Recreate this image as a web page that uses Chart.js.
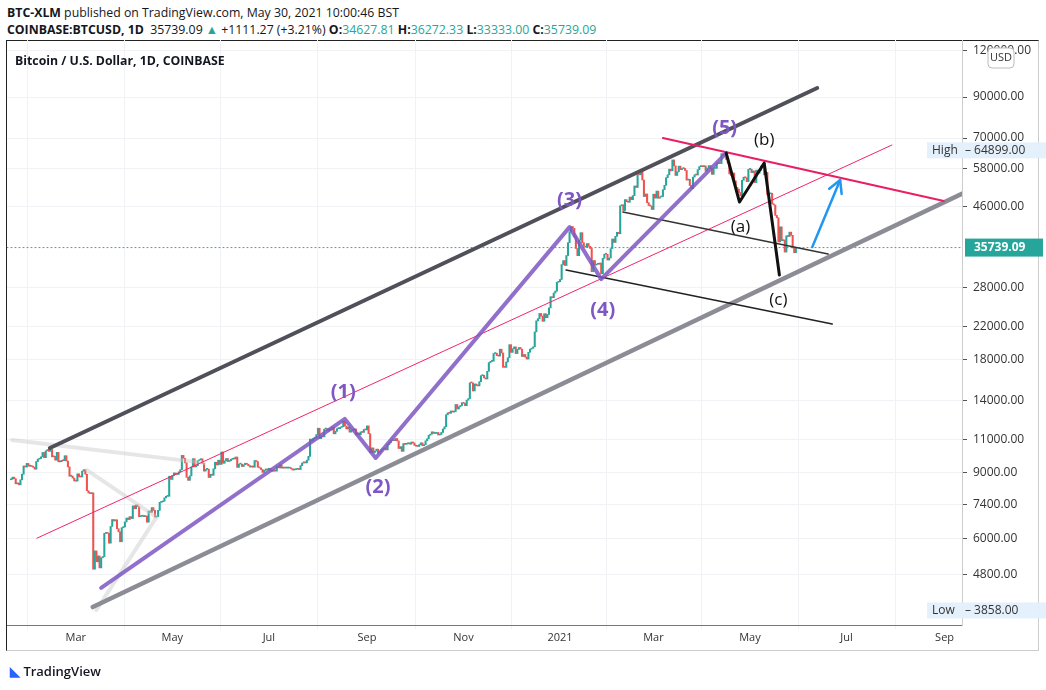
<!DOCTYPE html>
<html><head><meta charset="utf-8">
<script src="https://cdn.jsdelivr.net/npm/chart.js@4"></script>
<style>
body{margin:0;width:1046px;height:690px;background:#fff;font-family:"Open Sans","Liberation Sans",sans-serif;overflow:hidden;position:relative}
#h1{position:absolute;left:7px;top:4px;font-size:12.3px;color:#131722}
#h2{position:absolute;left:7px;top:21px;font-size:12.3px;color:#131722}
.t{color:#26a69a}
#frame{position:absolute;left:6px;top:40px;width:1033px;height:611px;border:1px solid #222;border-bottom:1px solid #ccc;border-right:1px solid #ccc;box-sizing:border-box}
#title{position:absolute;left:15px;top:52px;font-size:12.3px;font-weight:bold;color:#131722}
#tv{position:absolute;left:10px;top:662px;font-size:13px;font-weight:600;color:#131722}
canvas{position:absolute;left:0;top:0}
</style></head><body>
<div id="h1"><b>BTC-XLM</b> published on TradingView.com, May 30, 2021 10:00:46 BST</div>
<div id="h2"><b>COINBASE:BTCUSD, 1D</b>&nbsp; 35739.09 <span class="t">▲</span> +1111.27 (+3.21%) <b>O:</b><span class="t">34627.81</span> <b>H:</b><span class="t">36272.33</span> <b>L:</b><span class="t">33333.00</span> <b>C:</b><span class="t">35739.09</span></div>
<div id="frame"></div>
<canvas id="c" width="1046" height="690"></canvas>
<div id="title">Bitcoin / U.S. Dollar, 1D, COINBASE</div>
<div id="tv"><span style="color:#2962ff">◣</span> TradingView</div>
<script>
// Daily closes from 2020-01-20 (day 0) to 2021-05-30
const closes=[8630,8740,8660,8390,8430,8340,8600,8900,9360,9300,9510,9350,
9380,9330,9290,9180,9620,9760,9800,9900,10170,9850,10270,10350,10240,10360,9900,9930,9700,10180,9600,9610,9690,9670,9970,9650,9310,8790,8800,8690,8540,
8530,8920,8760,8750,9070,9150,8900,8040,7930,7900,7940,4970,5560,5200,5390,5010,5330,5370,6190,6200,6190,5830,6460,6740,6680,6730,6370,6250,5880,6410,6440,
6640,6800,6740,6860,6780,7330,7200,7370,7290,6860,6880,6910,6860,6880,6630,7100,7040,7250,7130,6840,6860,7130,7490,7510,7540,7700,7770,7770,8790,8620,
8830,8970,8910,8890,9030,9150,9990,9810,9540,8730,8570,8810,9310,9790,9310,9380,9670,9730,9780,9510,9070,9170,9180,8720,8900,8840,9200,9580,9420,9700,9450,
10200,9520,9660,9800,9620,9670,9750,9780,9770,9890,9280,9470,9470,9330,9430,9520,9460,9380,9300,9360,9290,9680,9620,9290,9250,9160,9000,9110,9190,9140,
9230,9090,9060,9130,9070,9340,9250,9430,9240,9290,9240,9240,9240,9250,9200,9130,9150,9170,9210,9160,9380,9530,9600,9540,9700,9930,11040,10920,11100,11110,11350,
11800,11070,11230,11190,11740,11770,11600,11760,11680,11880,11400,11580,11770,11770,11860,11910,12300,11960,11750,11870,11520,11680,11650,11750,11330,11460,11330,11540,11500,11710,11680,
11970,11410,10170,10460,10170,10260,10380,10130,10240,10360,10400,10450,10330,10680,10790,10950,10940,10930,11080,10920,10420,10540,10240,10740,10690,10730,10780,10700,10840,10780,
10620,10570,10550,10670,10790,10600,10670,10920,11060,11300,11380,11540,11430,11430,11500,11320,11360,11500,11750,11910,12820,12970,12930,13120,13030,13070,13650,13280,13460,13560,13800,
13750,13550,14020,14150,15590,15580,14830,15480,15330,15300,15700,16290,16330,16070,15960,16730,17650,17780,17800,18660,18700,18420,18370,19160,18720,17150,17140,17720,18180,19700,
18790,19220,19440,18650,19150,19360,19170,18320,18550,18250,18040,18800,19170,19270,19440,21310,22800,23110,23860,23480,22740,23820,23240,23720,24690,26440,26270,27040,27360,28880,28990,
29390,32200,33000,32020,34030,36820,39370,40670,40240,38240,35540,34010,37390,39160,36830,36070,35820,36630,36020,35550,30820,33010,32100,32290,32260,32510,30430,33470,34320,34300,33110,
33540,35510,37670,36890,38290,39260,38900,46200,46480,44840,47970,47370,47200,48720,47940,49140,52150,51680,55890,55850,57410,54090,48890,49660,47060,46280,46110,45140,
49590,48420,50540,48380,48750,48880,50970,52380,54880,55860,57820,57230,61190,59010,55630,56900,58910,57650,58030,58100,57350,54080,54340,52300,51300,55070,55860,55780,57630,58730,58800,
58720,58980,57090,58210,59120,58020,56000,58080,58110,59770,59990,59850,63580,62960,63160,61340,60010,56150,55660,56470,53800,51700,51150,50110,49070,54020,55040,54850,53560,57750,
57830,56610,57200,53240,57490,56420,57380,58930,58280,55860,56700,49400,49690,49880,46760,46430,43540,42900,37000,40590,37300,37450,34770,38400,38250,39290,38530,35660,34630,35739.09];
const firstOpen=8600;
const monthDays=[41,102,163,225,286,347,406,467,528,590];
const monthLabels=['Mar','May','Jul','Sep','Nov','2021','Mar','May','Jul','Sep'];
const priceTicks=[4800,6000,7400,9000,11000,14000,18000,22000,28000,46000,58000,70000,90000,120000];
const lastPrice=35739.09, highPrice=64899.00, lowPrice=3858.00;
// annotations: [day, price]
const waveImpulse=[[57,4430],[211,12490],[230.5,9830],[353,40520],[373,29450],[452,63800]];
const waveABC=[[452,63800],[460.4,47250],[476,60050],[485.6,30200]];
const upperChannel=[[24.6,10450],[509.5,95100]];
const lowerChannel=[[51.7,3940],[602,49950]];
const pinkLine=[[16.4,6010],[556.7,67050]];
const redLine=[[412,69990],[589.5,47540]];
const blackLine1=[[386.7,44450],[516.4,34350]];
const blackLine2=[[350.8,31140],[519,22360]];
const grayLine1=[[0.7,10980],[122,9540]];
const grayLine2=[[48,9130],[92,6840],[54,3870]];
const blueArrow=[[506.4,35870],[524,54080]];
const waveLabels=[['(1)',210,14730],['(2)',232,8230],['(3)',353,47840],['(4)',374,24360],['(5)',451,74400]];
const abcLabels=[['(a)',461,40520],['(b)',476,69120],['(c)',485,25920]];

const bars=closes.map((c,i)=>({x:i,y:[i?closes[i-1]:firstOpen,c]}));
const cols=bars.map(b=>b.y[1]>=b.y[0]?'#26a69a':'#ef5350');

const ann={id:'ann',afterDatasetsDraw(ch){
 const c=ch.ctx,xs=ch.scales.x,ys=ch.scales.y,a=ch.chartArea;
 const P=p=>[xs.getPixelForValue(p[0]),ys.getPixelForValue(p[1])];
 c.save();c.beginPath();c.rect(a.left,a.top,a.right-a.left,a.bottom-a.top);c.clip();
 c.lineCap='round';c.lineJoin='round';
 function line(pts,col,w){c.beginPath();pts.forEach((p,i)=>{const q=P(p);i?c.lineTo(q[0],q[1]):c.moveTo(q[0],q[1]);});c.strokeStyle=col;c.lineWidth=w;c.stroke();}
 const ly=ys.getPixelForValue(lastPrice);c.setLineDash([1,3]);c.beginPath();c.moveTo(a.left,ly);c.lineTo(a.right,ly);c.strokeStyle='#26a69a';c.lineWidth=1;c.stroke();c.setLineDash([]);
 line(grayLine1,'rgba(200,200,200,0.45)',4);
 line(grayLine2,'rgba(200,200,200,0.45)',4);
 line(upperChannel,'#50505a',4);
 line(lowerChannel,'#8c8c96',4.5);
 line(pinkLine,'#f0256a',1);
 line(redLine,'#e91e63',2);
 line(blackLine1,'#333',1.5);
 line(blackLine2,'#222',1.5);
 line(waveImpulse,'rgba(126,87,194,0.85)',4);
 line(waveABC,'#111',3);
 line(blueArrow,'#2196f3',2.5);
 const p0=P(blueArrow[0]),p1=P(blueArrow[1]);const ang=Math.atan2(p1[1]-p0[1],p1[0]-p0[0]);
 c.beginPath();c.moveTo(p1[0]-14*Math.cos(ang-0.5),p1[1]-14*Math.sin(ang-0.5));c.lineTo(p1[0],p1[1]);c.lineTo(p1[0]-14*Math.cos(ang+0.5),p1[1]-14*Math.sin(ang+0.5));c.stroke();
 c.textAlign='center';c.textBaseline='middle';
 c.font='bold 20px "Open Sans"';c.fillStyle='#7e57c2';
 waveLabels.forEach(l=>{const q=P([l[1],l[2]]);c.fillText(l[0],q[0],q[1]);});
 c.font='17px "Open Sans"';c.fillStyle='#111';
 abcLabels.forEach(l=>{const q=P([l[1],l[2]]);c.fillText(l[0],q[0],q[1]);});
 c.restore();
 c.save();c.font='12px "Open Sans"';c.textBaseline='middle';
 const ax=a.right;
 const hy=ys.getPixelForValue(highPrice), lwy=ys.getPixelForValue(lowPrice);
 [[hy,'High',highPrice],[lwy,'Low',lowPrice]].forEach(([y,t,v])=>{c.fillStyle='rgba(227,240,252,0.95)';c.fillRect(ax-35,y-8,130,16);c.fillStyle='#333';c.textAlign='left';c.fillText(t,ax-30,y);c.fillText('– '+v.toFixed(2),ax+3,y);});
 c.fillStyle='#26a69a';c.fillRect(ax+3,ly-9,78,18);c.fillStyle='#fff';c.font='bold 12px "Open Sans"';c.textAlign='left';c.fillText(lastPrice.toFixed(2),ax+12,ly);
 c.strokeStyle='#bbb';c.lineWidth=1;c.fillStyle='#fff';c.beginPath();c.roundRect(ax+26,48,26,20,4);c.fill();c.stroke();c.fillStyle='#333';c.font='11px "Open Sans"';c.fillText('USD',ax+28,58);
 c.restore();
}};

new Chart(document.getElementById('c'),{
 type:'bar',
 data:{datasets:[{data:bars,backgroundColor:cols,barThickness:1.4,minBarLength:1}]},
 options:{responsive:false,animation:false,
  layout:{padding:{left:7,top:40,right:0,bottom:36}},
  plugins:{legend:{display:false},tooltip:{enabled:false}},
  scales:{
   x:{type:'linear',min:-2.5,max:601,offset:false,
    afterBuildTicks(s){s.ticks=monthDays.map(v=>({value:v}));},
    afterFit(s){s.height=29;},
    ticks:{callback:(v)=>monthLabels[monthDays.indexOf(v)],font:{size:11,family:'Open Sans'},color:'#333',maxRotation:0,autoSkip:false,padding:2},
    grid:{color:'#f0f2f6',drawTicks:true,tickLength:4},border:{color:'#777'}},
   y:{type:'logarithmic',position:'right',min:3529,max:127700,
    afterBuildTicks(s){s.ticks=priceTicks.map(v=>({value:v}));},
    afterFit(s){s.width=84;},
    ticks:{callback:v=>v.toFixed(2),font:{size:12,family:'Open Sans'},color:'#333',padding:6},
    grid:{color:'#f0f2f6',tickLength:5,tickColor:'#555'},border:{color:'#ccc'}}
  }},
 plugins:[ann]});
</script></body></html>
